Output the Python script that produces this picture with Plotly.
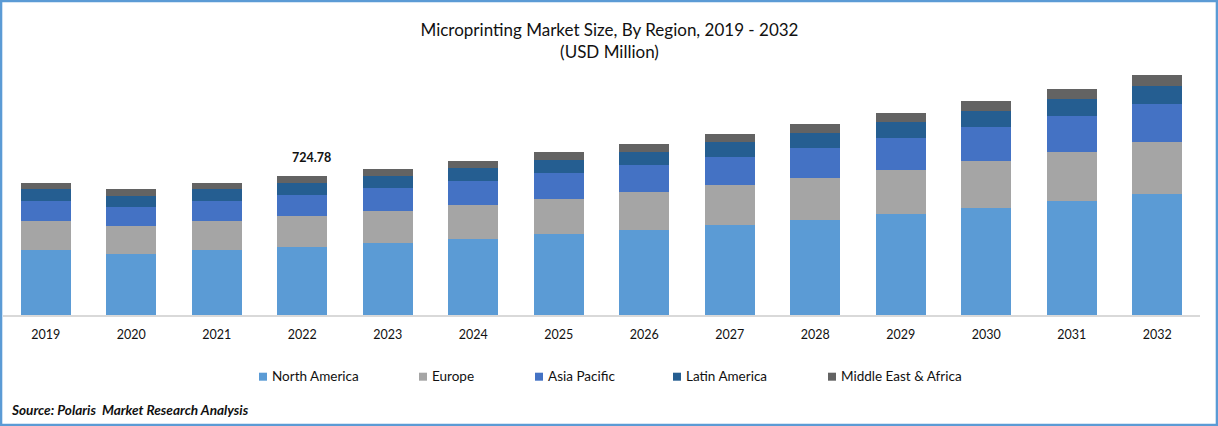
import plotly.graph_objects as go

# ===== Data =====
years = ["2019", "2020", "2021", "2022", "2023", "2024", "2025",
         "2026", "2027", "2028", "2029", "2030", "2031", "2032"]
north_america = [339, 318, 339, 355, 375, 396, 422, 443, 469, 495, 527, 558, 594, 631]
europe = [151, 146, 151, 162, 167, 177, 182, 198, 209, 219, 229, 245, 255, 271]
asia_pacific = [104, 99, 104, 109, 120, 125, 136, 141, 146, 156, 167, 177, 188, 198]
latin_america = [63, 57, 63, 63, 63, 68, 68, 68, 78, 78, 83, 83, 89, 94]
middle_east_africa = [31, 36, 31, 36, 36, 36, 42, 42, 42, 47, 47, 52, 52, 57]
label_year = "2022"
label_text = "724.78"

W, H = 1218, 426
LEFT, RIGHT, TOP, BASE = 3, 1200, 60, 315
FONT = "Lato"
TEXT = "#111111"


# pixel position on the page -> paper coordinates
def px(x):
    return (x - LEFT) / (RIGHT - LEFT)


def py(y):
    return (BASE - y) / (BASE - TOP)


fig = go.Figure()

# ===== Bars =====
series = [
    ("North America", north_america, "#5B9BD5", 259),
    ("Europe", europe, "#A5A5A5", 419),
    ("Asia Pacific", asia_pacific, "#4472C4", 535),
    ("Latin America", latin_america, "#255E91", 673),
    ("Middle East & Africa", middle_east_africa, "#636363", 828),
]
for name, values, color, _ in series:
    fig.add_trace(go.Bar(x=years, y=values, name=name, marker=dict(color=color, line_width=0)))

# ===== Layout =====
fig.update_layout(
    width=W, height=H,
    margin=dict(l=LEFT, r=W - RIGHT, t=TOP, b=H - BASE, pad=0),
    barmode="stack",
    bargap=0.415,
    plot_bgcolor="white",
    paper_bgcolor="white",
    font=dict(family=FONT, color=TEXT, size=14),
    title=dict(
        text="Microprinting Market Size, By Region, 2019 - 2032<br>(USD Million)",
        x=609.5 / W, xref="container", xanchor="center",
        y=1 - 36 / H, yref="container", yanchor="top",
        font=dict(family=FONT, size=17, color=TEXT),
    ),
    showlegend=False,
)
fig.update_xaxes(type="category", range=[-0.5, len(years) - 0.5], automargin=False,
                 showline=True, linecolor="#D9D9D9", linewidth=1.5,
                 ticks="", showgrid=False, zeroline=False,
                 tickfont=dict(family=FONT, size=12.5, color=TEXT), ticklabelstandoff=7)
fig.update_yaxes(range=[0, 1330], visible=False, showgrid=False, zeroline=False, automargin=False)

# total above the 2022 bar
i = years.index(label_year)
total = sum(s[1][i] for s in series)
fig.add_annotation(x=i, y=total, text="<b>" + label_text + "</b>", showarrow=False,
                   yanchor="bottom", yshift=9, xshift=9, font=dict(family=FONT, size=12.5, color=TEXT))

# legend row, swatch plus text
for name, values, color, swatch_x in series:
    fig.add_shape(type="rect", xref="paper", yref="paper",
                  x0=px(swatch_x), x1=px(swatch_x + 8), y0=py(380.7), y1=py(372.7),
                  line_width=0, fillcolor=color)
    fig.add_annotation(xref="paper", yref="paper", x=px(swatch_x + 11.5), y=py(375.5),
                       text=name, showarrow=False, xanchor="left", yanchor="middle",
                       borderpad=0, font=dict(family=FONT, size=13.5, color=TEXT))

# source note
fig.add_annotation(xref="paper", yref="paper", x=px(8.5), y=py(409.5),
                   text="<b><i>Source: Polaris  Market Research Analysis</i></b>", showarrow=False,
                   xanchor="left", yanchor="middle", font=dict(family=FONT, size=13.6, color=TEXT))

# blue frame round the picture
fig.add_shape(type="rect", xref="paper", yref="paper",
              x0=px(1.1), x1=px(W - 1.1), y0=py(H - 1.1), y1=py(1.1),
              line=dict(color="#5B9BD5", width=2.4), fillcolor="rgba(0,0,0,0)")

fig.write_html("out.html", config=dict(displayModeBar=False),
               post_script="document.body.style.margin='0';")
